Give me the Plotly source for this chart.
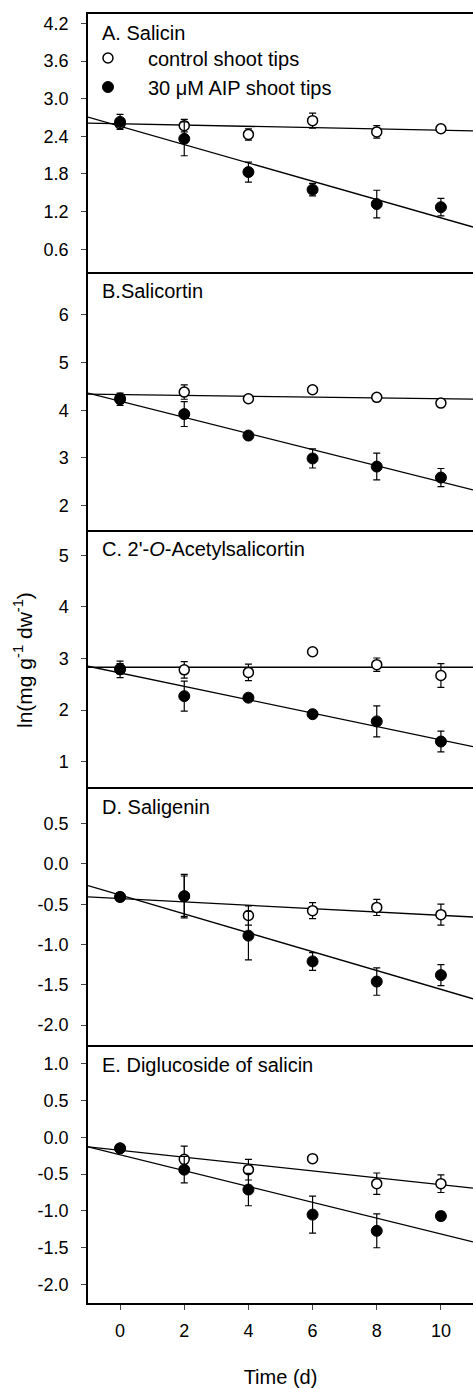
import numpy as np
import plotly.graph_objects as go

# ---------------- data ----------------
days = [0, 2, 4, 6, 8, 10]

panel_titles = ["A. Salicin", "B.Salicortin", "C. 2'-<i>O</i>-Acetylsalicortin",
                "D. Saligenin", "E. Diglucoside of salicin"]

ctrl_A = [2.60, 2.57, 2.43, 2.65, 2.47, 2.52]
ctrl_A_err = [0.06, 0.10, 0.09, 0.12, 0.10, 0.03]
aip_A = [2.63, 2.36, 1.83, 1.55, 1.32, 1.27]
aip_A_err = [0.12, 0.27, 0.16, 0.10, 0.22, 0.14]

ctrl_B = [4.25, 4.38, 4.24, 4.43, 4.27, 4.15]
ctrl_B_err = [0.05, 0.15, 0.05, 0.02, 0.05, 0.03]
aip_B = [4.23, 3.92, 3.47, 2.99, 2.82, 2.59]
aip_B_err = [0.13, 0.26, 0.08, 0.20, 0.28, 0.19]

ctrl_C = [2.80, 2.78, 2.73, 3.13, 2.88, 2.67]
ctrl_C_err = [0.10, 0.16, 0.16, 0.02, 0.13, 0.23]
aip_C = [2.79, 2.27, 2.24, 1.92, 1.78, 1.39]
aip_C_err = [0.16, 0.29, 0.07, 0.08, 0.30, 0.20]

ctrl_D = [-0.41, -0.40, -0.64, -0.58, -0.54, -0.63]
ctrl_D_err = [0.05, 0.25, 0.12, 0.10, 0.10, 0.13]
aip_D = [-0.41, -0.40, -0.89, -1.21, -1.46, -1.38]
aip_D_err = [0.05, 0.27, 0.30, 0.11, 0.17, 0.13]

ctrl_E = [-0.15, -0.30, -0.44, -0.29, -0.63, -0.63]
ctrl_E_err = [0.04, 0.18, 0.14, 0.02, 0.145, 0.12]
aip_E = [-0.15, -0.44, -0.71, -1.05, -1.27, -1.07]
aip_E_err = [0.04, 0.18, 0.22, 0.25, 0.23, 0.06]

# regression lines (intercept, slope)
ctrl_fit_intercept = [2.60, 4.33, 2.83, -0.43, -0.177]
ctrl_fit_slope = [-0.0103, -0.009, 0.0, -0.0208, -0.0467]
aip_fit_intercept = [2.56, 4.19, 2.72, -0.387, -0.2375]
aip_fit_slope = [-0.146, -0.169, -0.130, -0.117, -0.1075]

# y ranges and tick labels
y_ranges = [[0.24, 4.35], [1.5, 6.9], [0.5, 5.5], [-2.25, 0.95], [-2.25, 1.25]]
ytick_vals = [
    [0.6, 1.2, 1.8, 2.4, 3.0, 3.6, 4.2],
    [2, 3, 4, 5, 6],
    [1, 2, 3, 4, 5],
    [-2.0, -1.5, -1.0, -0.5, 0.0, 0.5],
    [-2.0, -1.5, -1.0, -0.5, 0.0, 0.5, 1.0],
]
ytick_text = [
    ["0.6", "1.2", "1.8", "2.4", "3.0", "3.6", "4.2"],
    ["2", "3", "4", "5", "6"],
    ["1", "2", "3", "4", "5"],
    ["-2.0", "-1.5", "-1.0", "-0.5", "0.0", "0.5"],
    ["-2.0", "-1.5", "-1.0", "-0.5", "0.0", "0.5", "1.0"],
]
x_range = [-1, 11]
xtick_vals = [0, 2, 4, 6, 8, 10]

legend_names = ["control shoot tips", "30 \u03bcM AIP shoot tips"]

ctrl_series = [ctrl_A, ctrl_B, ctrl_C, ctrl_D, ctrl_E]
ctrl_errs = [ctrl_A_err, ctrl_B_err, ctrl_C_err, ctrl_D_err, ctrl_E_err]
aip_series = [aip_A, aip_B, aip_C, aip_D, aip_E]
aip_errs = [aip_A_err, aip_B_err, aip_C_err, aip_D_err, aip_E_err]

# ---------------- figure ----------------
FONT = "Liberation Sans, Arial, sans-serif"
fig = go.Figure()
n = 5
line_x = np.array(x_range, dtype=float)

for k in range(n):
    xa = "x" if k == 0 else f"x{k+1}"
    ya = "y" if k == 0 else f"y{k+1}"
    for b0, b1 in [(ctrl_fit_intercept[k], ctrl_fit_slope[k]),
                   (aip_fit_intercept[k], aip_fit_slope[k])]:
        fig.add_trace(go.Scatter(x=line_x, y=b0 + b1 * line_x, mode="lines",
                                 line=dict(color="black", width=1.3),
                                 showlegend=False, hoverinfo="skip",
                                 xaxis=xa, yaxis=ya))
    fig.add_trace(go.Scatter(
        x=days, y=ctrl_series[k], mode="markers",
        marker=dict(symbol="circle", size=10, color="white",
                    line=dict(color="black", width=1.5)),
        error_y=dict(type="data", array=ctrl_errs[k], visible=True,
                     color="black", thickness=1.2, width=3.5),
        name=legend_names[0], showlegend=(k == 0),
        xaxis=xa, yaxis=ya))
    fig.add_trace(go.Scatter(
        x=days, y=aip_series[k], mode="markers",
        marker=dict(symbol="circle", size=11, color="black",
                    line=dict(color="black", width=1)),
        error_y=dict(type="data", array=aip_errs[k], visible=True,
                     color="black", thickness=1.2, width=3.5),
        name=legend_names[1], showlegend=(k == 0),
        xaxis=xa, yaxis=ya))

layout = dict(
    width=473, height=1388,
    margin=dict(l=88, r=0, t=14, b=85),
    paper_bgcolor="white", plot_bgcolor="white",
    font=dict(family=FONT, color="black", size=18),
    legend=dict(x=-0.052, y=0.981, xanchor="left", yanchor="top",
                bgcolor="rgba(0,0,0,0)", itemwidth=70,
                font=dict(size=20, family=FONT)),
    annotations=[],
)

for k in range(n):
    xkey = "xaxis" if k == 0 else f"xaxis{k+1}"
    ykey = "yaxis" if k == 0 else f"yaxis{k+1}"
    ya = "y" if k == 0 else f"y{k+1}"
    dom = [1 - (k + 1) / n, 1 - k / n]
    bottom = (k == n - 1)
    layout[xkey] = dict(
        domain=[0, 1], anchor=ya, range=x_range,
        showline=True, linecolor="black", linewidth=1.5, mirror=(k == 0),
        showgrid=False, zeroline=False,
        tickvals=xtick_vals if bottom else [],
        ticks="outside" if bottom else "", ticklen=5, tickwidth=1,
        showticklabels=bottom, tickfont=dict(size=18),
        ticklabelstandoff=6 if bottom else 0,
    )
    if k > 0:
        layout[xkey]["matches"] = "x"
    if bottom:
        layout[xkey]["title"] = dict(text="Time (d)", font=dict(size=20), standoff=31)
    layout[ykey] = dict(
        domain=dom, anchor="x" if k == 0 else f"x{k+1}", range=y_ranges[k],
        showline=True, linecolor="black", linewidth=1.5, mirror=False,
        showgrid=False, zeroline=False,
        tickvals=ytick_vals[k], ticktext=ytick_text[k],
        ticks="outside", ticklen=5, tickwidth=1, tickfont=dict(size=18),
        ticklabelstandoff=9,
    )
    xd = "x domain" if k == 0 else f"x{k+1} domain"
    yd = "y domain" if k == 0 else f"y{k+1} domain"
    layout["annotations"].append(dict(
        text=panel_titles[k], xref=xd, yref=yd, x=0.032, y=0.925,
        xanchor="left", yanchor="middle", showarrow=False,
        font=dict(size=20, family=FONT)))

layout["annotations"].append(dict(
    text="ln(mg g<sup>-1</sup> dw<sup>-1</sup>)", xref="paper", yref="paper",
    x=-0.169, y=0.4988, xanchor="center", yanchor="middle", textangle=-90,
    showarrow=False, font=dict(size=21, family=FONT)))

fig.update_layout(**layout)
fig.write_html("out.html", config={"displayModeBar": False},
               post_script="document.body.style.margin='0';document.body.style.overflow='hidden';")
